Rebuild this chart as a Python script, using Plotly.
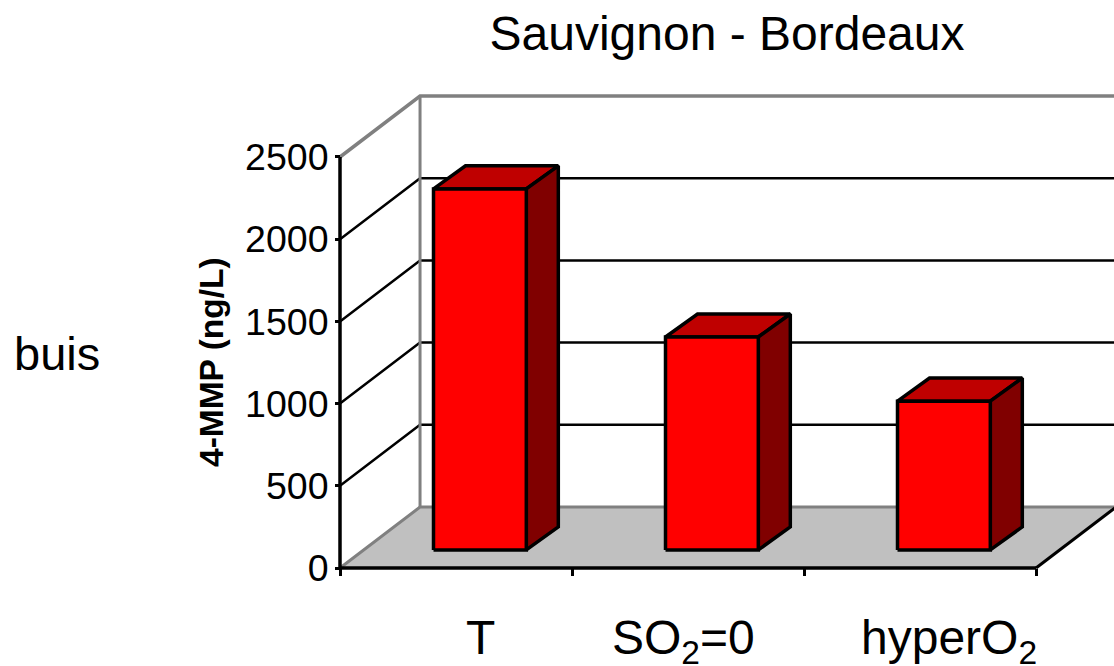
import plotly.graph_objects as go

FONT = "Liberation Sans"

categories = ["T", "SO<sub>2</sub>=0", "hyperO<sub>2</sub>"]
values = [2196, 1295, 905]
y_ticks = [0, 500, 1000, 1500, 2000, 2500]
x_ticks = [0, 1, 2, 3]
label_positions = [0.606, 1.482, 2.625]
title_text = "Sauvignon - Bordeaux"
y_title = "4-MMP (ng/L)"
side_text = "buis"

# chart geometry, in data units
DEPTH_X, DEPTH_Y = 0.345, 371
BAR_WIDTH = 0.4
BAR_SHIFT_X, BAR_BASE = 0.103, 110
BAR_DEPTH_X, BAR_DEPTH_Y = 0.138, 140
X_MIN, X_MAX = -0.01293, 3.3362
Y_MIN, Y_MAX = -18.25, 2901.4

RED, DARK_TOP, DARK_SIDE = "#ff0000", "#bf0000", "#800000"
GRAY, FLOOR = "#808080", "#c0c0c0"

fig = go.Figure()


def line(xs, ys, color="#000000", width=2.5):
    fig.add_trace(go.Scatter(x=xs, y=ys, mode="lines", showlegend=False, hoverinfo="skip",
                             line=dict(color=color, width=width)))


def poly(xs, ys, fill, color="#000000", width=3.5):
    fig.add_trace(go.Scatter(x=xs + xs[:1], y=ys + ys[:1], mode="lines", fill="toself", fillcolor=fill,
                             showlegend=False, hoverinfo="skip",
                             line=dict(color=color, width=width, shape="linear")))


def px_x(px):
    return (px - 337) / 777


def px_y(px):
    return (571 - px) / 480


# floor
poly([0, DEPTH_X, 3 + DEPTH_X, 3], [0, DEPTH_Y, DEPTH_Y, 0], FLOOR, color="rgba(0,0,0,0)", width=0)
line([0, DEPTH_X, 3 + DEPTH_X], [0, DEPTH_Y, DEPTH_Y], GRAY, 3)
line([3, 3 + DEPTH_X], [0, DEPTH_Y], "#000000", 3)

# walls and gridlines
for v in y_ticks[1:]:
    c = GRAY if v == y_ticks[-1] else "#000000"
    w = 3.5 if v == y_ticks[-1] else 2.5
    line([0, DEPTH_X, 3 + DEPTH_X], [v, v + DEPTH_Y, v + DEPTH_Y], c, w)
line([DEPTH_X, DEPTH_X], [DEPTH_Y, y_ticks[-1] + DEPTH_Y], GRAY, 3)

# axis lines
line([0, 3], [0, 0], "#000000", 3.5)
line([0, 0], [0, y_ticks[-1]], "#000000", 3.5)

# bars
for i, v in enumerate(values):
    x0 = i + 0.5 + BAR_SHIFT_X - BAR_WIDTH / 2
    x1 = x0 + BAR_WIDTH
    y0, y1 = BAR_BASE, BAR_BASE + v
    poly([x0, x1, x1 + BAR_DEPTH_X, x0 + BAR_DEPTH_X],
         [y1, y1, y1 + BAR_DEPTH_Y, y1 + BAR_DEPTH_Y], DARK_TOP)
    poly([x1, x1 + BAR_DEPTH_X, x1 + BAR_DEPTH_X, x1],
         [y0, y0 + BAR_DEPTH_Y, y1 + BAR_DEPTH_Y, y1], DARK_SIDE)
    poly([x0, x1, x1, x0], [y0, y0, y1, y1], RED)

category_labels = [
    dict(text=c, xref="x", yref="paper", x=p, y=px_y(609), showarrow=False,
         xanchor="center", yanchor="top", font=dict(family=FONT, size=48, color="#000000"))
    for c, p in zip(categories, label_positions)
]

fig.update_layout(
    width=1114, height=666, autosize=False,
    margin=dict(l=337, r=0, t=91, b=95),
    plot_bgcolor="#ffffff", paper_bgcolor="#ffffff",
    font=dict(family=FONT, color="#000000"),
    showlegend=False,
    title=dict(text=title_text, x=727 / 1114, xanchor="center", y=1 - 33 / 666, yanchor="middle",
               font=dict(family=FONT, size=48, color="#000000")),
    xaxis=dict(range=[X_MIN, X_MAX], anchor="free", position=3 / 480, showgrid=False, zeroline=False, showline=False,
               tickmode="array", tickvals=x_ticks, showticklabels=False,
               ticks="outside", ticklen=7, tickwidth=2.5, tickcolor="#000000"),
    yaxis=dict(range=[Y_MIN, Y_MAX], anchor="free", position=3 / 777, showgrid=False, zeroline=False, showline=False,
               tickmode="array", tickvals=y_ticks, ticks="outside", ticklen=5, tickwidth=2.5,
               tickcolor="#000000", ticklabelstandoff=-1, tickfont=dict(family=FONT, size=37.5, color="#000000")),
    annotations=category_labels + [
        dict(text=f"<b>{y_title}</b>", xref="paper", yref="paper", x=px_x(211),
             y=px_y(362), textangle=-90, showarrow=False, xanchor="center", yanchor="middle",
             font=dict(family=FONT, size=33.5, color="#000000")),
        dict(text=side_text, xref="paper", yref="paper", x=px_x(57), y=px_y(353),
             showarrow=False, xanchor="center", yanchor="middle",
             font=dict(family=FONT, size=47, color="#000000")),
    ],
)

fig.write_html("out.html", config={"displayModeBar": False},
               post_script="document.body.style.margin='0';")
